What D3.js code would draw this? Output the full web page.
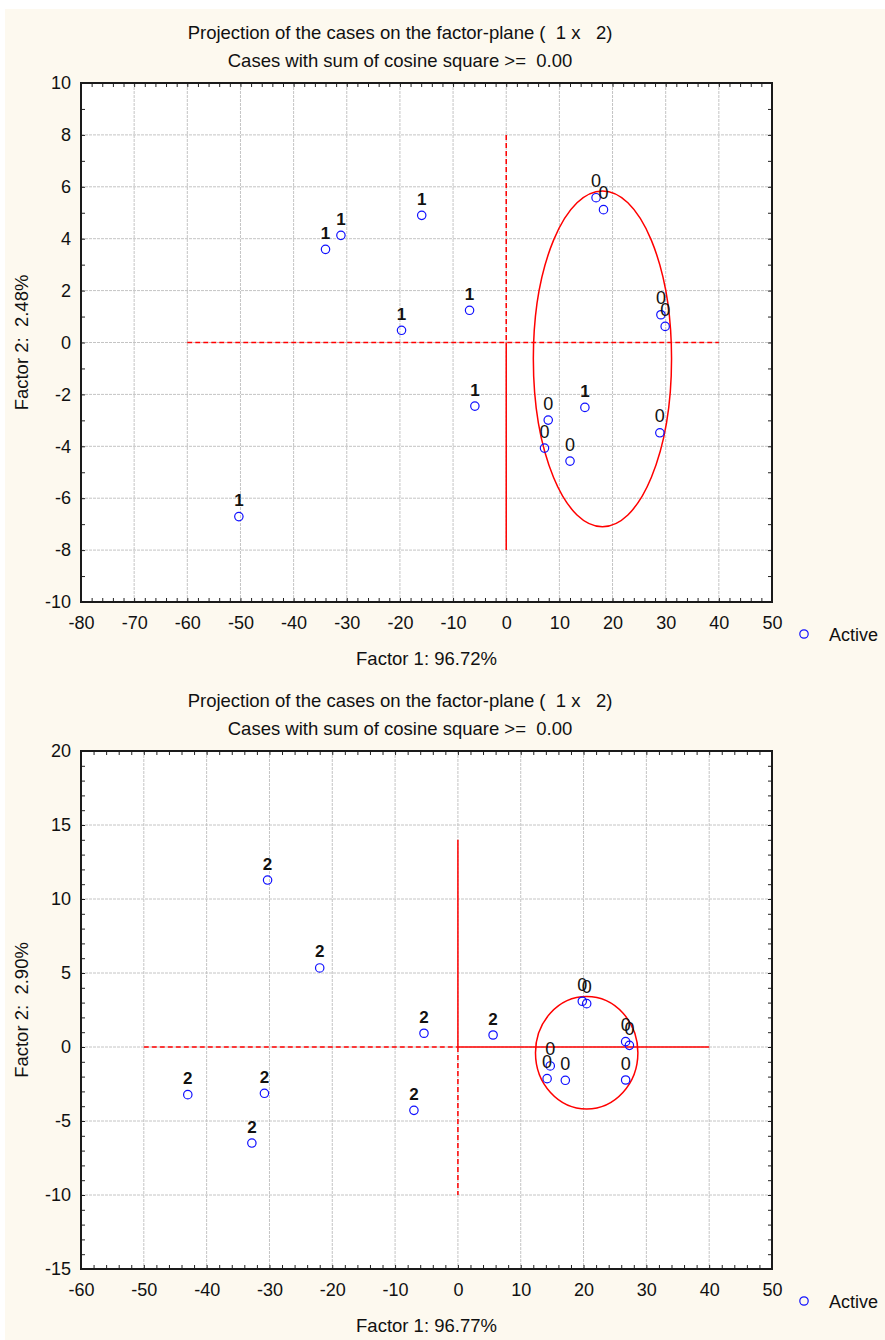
<!DOCTYPE html>
<html>
<head>
<meta charset="utf-8">
<script src="https://cdn.jsdelivr.net/npm/d3@7"></script>
<style>
  body { margin: 0; background: #fff; }
  svg text { font-family: "Liberation Sans", Arial, sans-serif; fill: #111; }
</style>
</head>
<body>
<div id="chart"></div>
<script>
// ---- data ----
// chart 1 (factor plane 1 x 2, groups 1 / 0)
const c1Labels = ["1","1","1","1","1","1","1","1","0","0","0","0","0","0","0","0"];
const c1Factor1 = [-50.3, -34.0, -31.1, -15.9, -19.7, -6.9, -5.9, 14.8, 16.9, 18.3, 29.1, 29.9, 7.9, 7.2, 12.0, 28.9];
const c1Factor2 = [-6.71, 3.59, 4.13, 4.90, 0.47, 1.24, -2.45, -2.50, 5.58, 5.12, 1.07, 0.62, -2.99, -4.07, -4.57, -3.48];
const c1XTicks = [-80, -70, -60, -50, -40, -30, -20, -10, 0, 10, 20, 30, 40, 50];
const c1YTicks = [-10, -8, -6, -4, -2, 0, 2, 4, 6, 8, 10];
// reference lines: [x1, y1, x2, y2, dashed]
const c1RefLines = [[-60, 0, 40, 0, true], [0, 8, 0, 0, true], [0, 0, 0, -8, false]];
// ellipse: [cx, cy, rx, ry]
const c1Ellipse = [18.1, -0.63, 13.0, 6.47];

// chart 2 (groups 2 / 0)
const c2Labels = ["2","2","2","2","2","2","2","2","0","0","0","0","0","0","0","0"];
const c2Factor1 = [-30.3, -22.0, -5.4, 5.6, -43.0, -30.8, -32.8, -7.0, 19.8, 20.5, 26.7, 27.3, 14.7, 14.2, 17.1, 26.7];
const c2Factor2 = [11.28, 5.34, 0.93, 0.81, -3.22, -3.13, -6.49, -4.28, 3.09, 2.93, 0.36, 0.11, -1.28, -2.14, -2.25, -2.23];
const c2XTicks = [-60, -50, -40, -30, -20, -10, 0, 10, 20, 30, 40, 50];
const c2YTicks = [-15, -10, -5, 0, 5, 10, 15, 20];
const c2RefLines = [[-50, 0, 0, 0, true], [0, 0, 40, 0, false], [0, 14, 0, 0, false], [0, 0, 0, -10, true]];
const c2Ellipse = [20.5, -0.39, 8.15, 3.8];

const titleLine1 = "Projection of the cases on the factor-plane (  1 x   2)";
const titleLine2 = "Cases with sum of cosine square >=  0.00";

const width = 885, height = 1340;
const left = 81, right = 772;

const svg = d3.select("#chart").append("svg")
  .attr("width", width)
  .attr("height", height);

// cream page background
svg.append("rect")
  .attr("x", 5).attr("y", 9)
  .attr("width", width - 5).attr("height", height - 9)
  .attr("fill", "#fdf9ef");

function drawPanel(cfg) {
  const top = cfg.top, bottom = cfg.bottom;
  const x = d3.scaleLinear().domain(cfg.xDomain).range([left, right]);
  const y = d3.scaleLinear().domain(cfg.yDomain).range([bottom, top]);
  const g = svg.append("g");

  g.append("rect")
    .attr("x", left).attr("y", top)
    .attr("width", right - left).attr("height", bottom - top)
    .attr("fill", "#fff");

  // grid
  const xInner = cfg.xTicks.slice(1, -1);
  const yInner = cfg.yTicks.slice(1, -1);
  g.append("g").selectAll("line").data(xInner).enter().append("line")
    .attr("x1", d => x(d)).attr("x2", d => x(d))
    .attr("y1", top).attr("y2", bottom)
    .attr("stroke", "#c4c4c4").attr("stroke-dasharray", "3,1");
  g.append("g").selectAll("line").data(yInner).enter().append("line")
    .attr("x1", left).attr("x2", right)
    .attr("y1", d => y(d)).attr("y2", d => y(d))
    .attr("stroke", "#c4c4c4").attr("stroke-dasharray", "3,1");

  // minor ticks, inside on all four sides
  const xMinor = d3.range(cfg.xDomain[0], cfg.xDomain[1] + 0.001, cfg.xMinor);
  const yMinor = d3.range(cfg.yDomain[0], cfg.yDomain[1] + 0.001, cfg.yMinor);
  const tickStyle = a => a.call(s => s.select(".domain").remove())
    .call(s => s.selectAll("text").remove())
    .call(s => s.selectAll("line").attr("stroke", "#222"));
  g.append("g").attr("transform", `translate(0,${bottom})`)
    .call(d3.axisTop(x).tickValues(xMinor).tickSize(4)).call(tickStyle);
  g.append("g").attr("transform", `translate(0,${top})`)
    .call(d3.axisBottom(x).tickValues(xMinor).tickSize(4)).call(tickStyle);
  g.append("g").attr("transform", `translate(${left},0)`)
    .call(d3.axisRight(y).tickValues(yMinor).tickSize(4)).call(tickStyle);
  g.append("g").attr("transform", `translate(${right},0)`)
    .call(d3.axisLeft(y).tickValues(yMinor).tickSize(4)).call(tickStyle);

  // tick labels (plain hyphen minus, like the original)
  g.append("g").attr("transform", `translate(0,${bottom})`)
    .call(d3.axisBottom(x).tickValues(cfg.xTicks).tickSize(0).tickPadding(14).tickFormat(d => String(d)))
    .call(s => s.select(".domain").remove())
    .call(s => s.selectAll("text").style("font-size", "18px").attr("fill", "#111"));
  g.append("g").attr("transform", `translate(${left - 10},0)`)
    .call(d3.axisLeft(y).tickValues(cfg.yTicks).tickSize(0).tickPadding(0).tickFormat(d => String(d)))
    .call(s => s.select(".domain").remove())
    .call(s => s.selectAll("text").style("font-size", "18px").attr("fill", "#111"));

  // reference lines
  g.append("g").selectAll("line").data(cfg.refLines).enter().append("line")
    .attr("x1", d => x(d[0])).attr("y1", d => y(d[1]))
    .attr("x2", d => x(d[2])).attr("y2", d => y(d[3]))
    .attr("stroke", "#ff0000").attr("stroke-width", 1.5)
    .attr("stroke-dasharray", d => d[4] ? "5,3" : null);

  // ellipse
  const e = cfg.ellipse;
  g.append("ellipse")
    .attr("cx", x(e[0])).attr("cy", y(e[1]))
    .attr("rx", x(e[0] + e[2]) - x(e[0]))
    .attr("ry", y(e[1]) - y(e[1] + e[3]))
    .attr("fill", "none").attr("stroke", "#ff0000").attr("stroke-width", 1.5);

  // frame
  g.append("rect")
    .attr("x", left).attr("y", top)
    .attr("width", right - left).attr("height", bottom - top)
    .attr("fill", "none").attr("stroke", "#1a1a1a").attr("stroke-width", 2);

  // points + labels
  const pts = cfg.labels.map((l, i) => ({ label: l, f1: cfg.f1[i], f2: cfg.f2[i] }));
  g.append("g").selectAll("circle").data(pts).enter().append("circle")
    .attr("cx", d => x(d.f1)).attr("cy", d => y(d.f2))
    .attr("r", 4.2)
    .attr("fill", "none").attr("stroke", "#1010ff").attr("stroke-width", 1.2);
  g.append("g").selectAll("text").data(pts).enter().append("text")
    .attr("x", d => x(d.f1)).attr("y", d => y(d.f2) - 10.5)
    .attr("text-anchor", "middle")
    .style("font-size", d => d.label === "0" ? "18px" : "17px")
    .style("font-weight", d => d.label === "0" ? "normal" : "bold")
    .text(d => d.label);

  // titles
  g.append("text")
    .attr("x", 400).attr("y", top - 44)
    .attr("text-anchor", "middle").style("font-size", "18.5px")
    .style("white-space", "pre")
    .text(titleLine1);
  g.append("text")
    .attr("x", 400).attr("y", top - 16)
    .attr("text-anchor", "middle").style("font-size", "18.5px")
    .style("white-space", "pre")
    .text(titleLine2);

  // axis titles
  g.append("text")
    .attr("x", (left + right) / 2).attr("y", bottom + 63)
    .attr("text-anchor", "middle").style("font-size", "18.5px")
    .text(cfg.xTitle);
  g.append("text")
    .attr("transform", `translate(28,${(top + bottom) / 2}) rotate(-90)`)
    .attr("text-anchor", "middle").style("font-size", "18.5px")
    .style("white-space", "pre")
    .text(cfg.yTitle);

  // legend
  g.append("circle")
    .attr("cx", 804).attr("cy", bottom + 32).attr("r", 4.2)
    .attr("fill", "none").attr("stroke", "#1010ff").attr("stroke-width", 1.2);
  g.append("text")
    .attr("x", 829).attr("y", bottom + 39)
    .style("font-size", "18px")
    .text("Active");
}

drawPanel({
  top: 83, bottom: 602,
  xDomain: [-80, 50], yDomain: [-10, 10],
  xTicks: c1XTicks, yTicks: c1YTicks, xMinor: 2, yMinor: 1,
  labels: c1Labels, f1: c1Factor1, f2: c1Factor2,
  refLines: c1RefLines, ellipse: c1Ellipse,
  xTitle: "Factor 1: 96.72%", yTitle: "Factor 2:  2.48%"
});

drawPanel({
  top: 751, bottom: 1269,
  xDomain: [-60, 50], yDomain: [-15, 20],
  xTicks: c2XTicks, yTicks: c2YTicks, xMinor: 2, yMinor: 1,
  labels: c2Labels, f1: c2Factor1, f2: c2Factor2,
  refLines: c2RefLines, ellipse: c2Ellipse,
  xTitle: "Factor 1: 96.77%", yTitle: "Factor 2:  2.90%"
});
</script>
</body>
</html>
